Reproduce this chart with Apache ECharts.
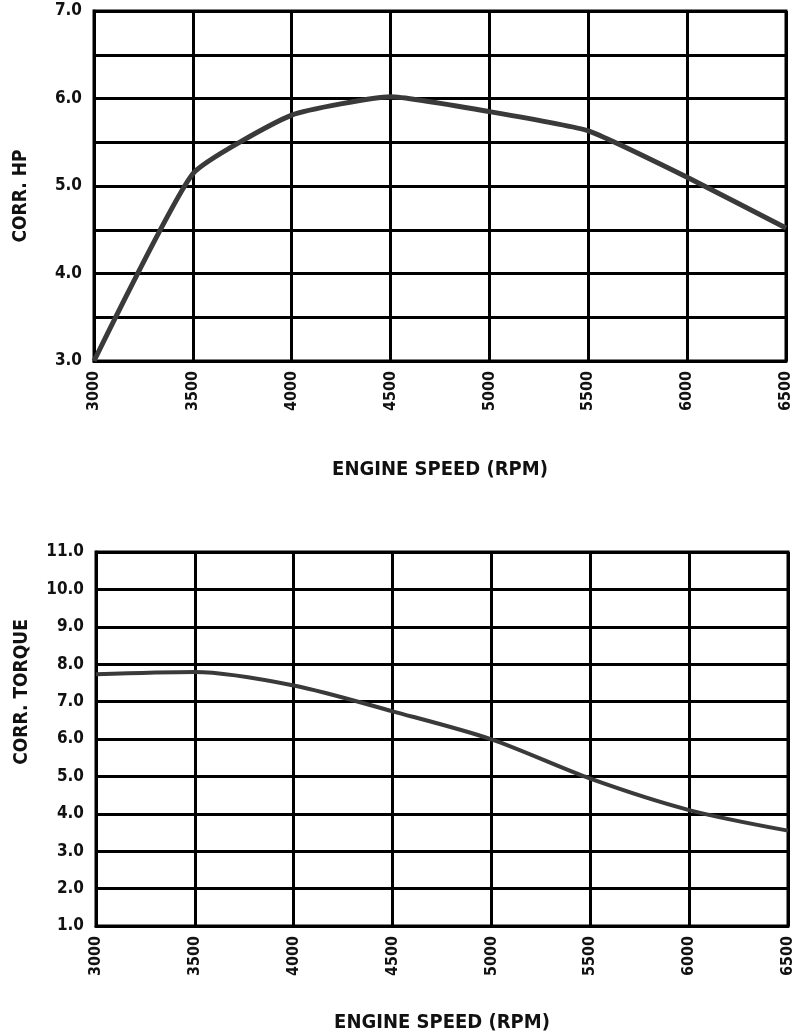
<!DOCTYPE html>
<html>
<head>
<meta charset="utf-8">
<script src="https://cdn.jsdelivr.net/npm/echarts@6/dist/echarts.min.js"></script>
<style>
html,body{margin:0;padding:0;background:#fff;}
#c{width:796px;height:1034px;}
</style>
</head>
<body>
<div id="c"></div>
<script>
const rpm = [3000, 3500, 4000, 4500, 5000, 5500, 6000, 6500];
const hp = [3.0, 5.14, 5.81, 6.02, 5.85, 5.63, 5.1, 4.52];
const torque = [7.73, 7.79, 7.43, 6.74, 5.99, 4.94, 4.1, 3.55];
const xTitle = 'ENGINE SPEED (RPM)';
const hpTitle = 'CORR. HP';
const torqueTitle = 'CORR. TORQUE';

const FONT = 'DejaVu Sans Condensed';
const lineStyle = {color: '#000', width: 3};
const labelStyle = {color: '#111', fontFamily: FONT, fontWeight: 'bold', fontSize: 16};
const yLabelStyle = {color: '#111', fontFamily: FONT, fontWeight: 'bold', fontSize: 17};

function xAxis(gridIndex, gap) {
  return {
    type: 'value', gridIndex: gridIndex, min: 3000, max: 6500, interval: 500,
    name: xTitle, nameLocation: 'middle', nameGap: gap,
    nameTextStyle: {color: '#111', fontFamily: FONT, fontWeight: 'bold', fontSize: 20},
    axisLine: {show: true, lineStyle: lineStyle},
    axisTick: {show: false},
    splitLine: {show: true, lineStyle: lineStyle},
    axisLabel: Object.assign({rotate: 90, margin: 10, formatter: v => String(v)}, labelStyle)
  };
}

const chart = echarts.init(document.getElementById('c'), null, {renderer: 'canvas'});
chart.setOption({
  animation: false,
  backgroundColor: '#fff',
  grid: [
    {left: 94, top: 11, width: 692, height: 350, show: true, borderColor: '#000', borderWidth: 3},
    {left: 96, top: 552, width: 696, height: 377, show: true, borderColor: '#000', borderWidth: 3}
  ],
  xAxis: [xAxis(0, 99), xAxis(1, 87)],
  yAxis: [
    {
      type: 'value', gridIndex: 0, min: 3, max: 7, interval: 0.5,
      axisLine: {show: true, lineStyle: lineStyle}, axisTick: {show: false},
      splitLine: {show: true, lineStyle: lineStyle},
      axisLabel: Object.assign({margin: 12, formatter: v => (Math.abs(v - Math.round(v)) < 1e-9 ? v.toFixed(1) : '')}, yLabelStyle)
    },
    {
      type: 'value', gridIndex: 1, min: 1, max: 11, interval: 1,
      axisLine: {show: true, lineStyle: lineStyle}, axisTick: {show: false},
      splitLine: {show: true, lineStyle: lineStyle},
      axisLabel: Object.assign({margin: 12, formatter: v => v.toFixed(1)}, yLabelStyle)
    }
  ],
  graphic: [
    {type: 'text', x: 21, y: 196, rotation: Math.PI / 2,
     style: {text: hpTitle, fill: '#111', font: 'bold 19px "DejaVu Sans Condensed"', textAlign: 'center', textVerticalAlign: 'middle'}},
    {type: 'text', x: 22, y: 692, rotation: Math.PI / 2,
     style: {text: torqueTitle, fill: '#111', font: 'bold 19px "DejaVu Sans Condensed"', textAlign: 'center', textVerticalAlign: 'middle'}}
  ],
  series: [
    {type: 'line', xAxisIndex: 0, yAxisIndex: 0, data: rpm.map((r, i) => [r, hp[i]]),
     showSymbol: false, smooth: 0.15, lineStyle: {color: '#3a3a3a', width: 5}, z: 5},
    {type: 'line', xAxisIndex: 1, yAxisIndex: 1, data: rpm.map((r, i) => [r, torque[i]]),
     showSymbol: false, smooth: 0.3, lineStyle: {color: '#3a3a3a', width: 4}, z: 5}
  ]
});
</script>
</body>
</html>
